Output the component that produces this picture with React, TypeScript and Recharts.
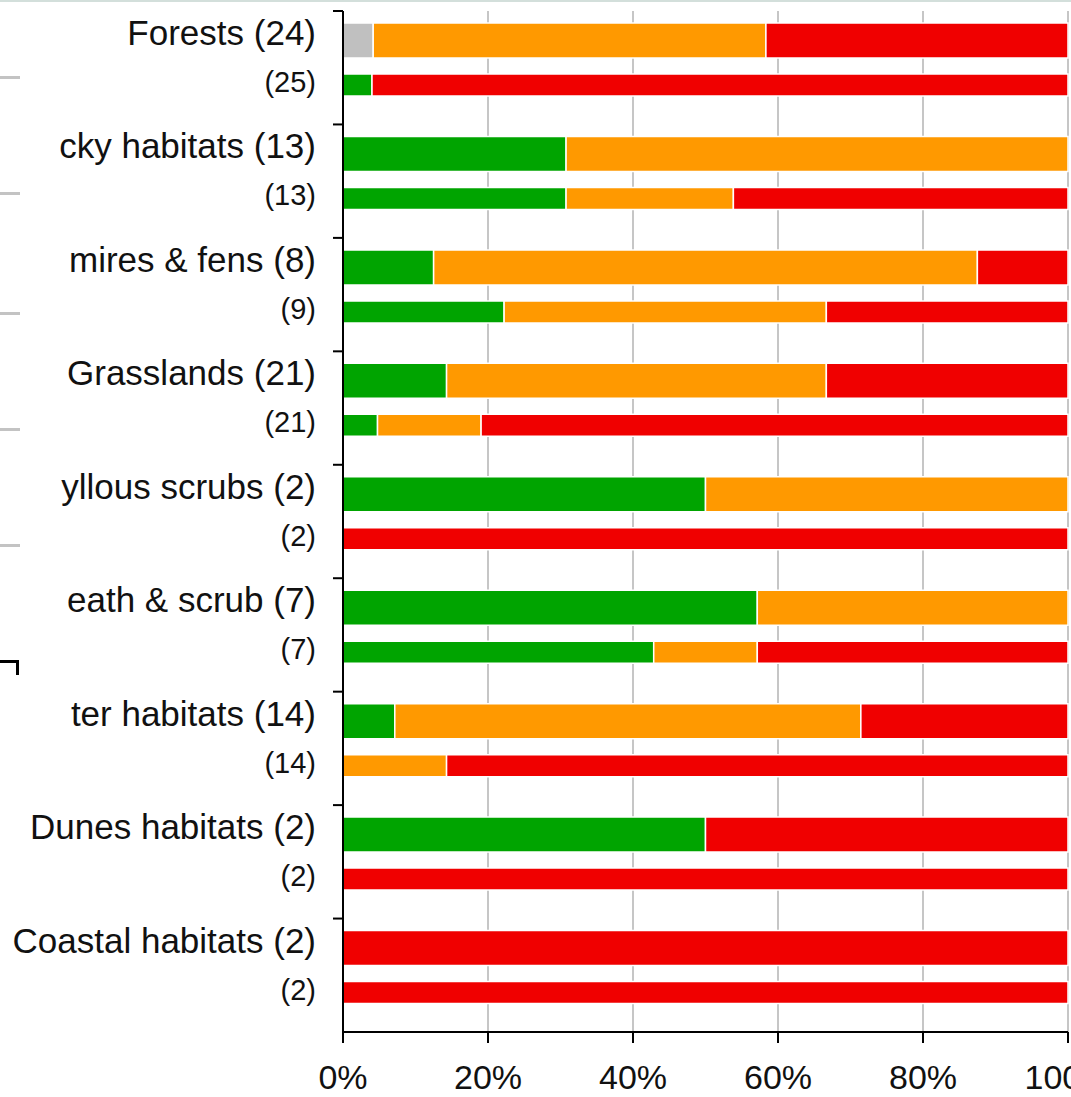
import { BarChart, Bar, XAxis, YAxis, CartesianGrid } from "recharts";

// habitat groups, as far as their labels are visible in the picture
const categories = [
  "Forests (24)",
  "cky habitats (13)",
  "mires & fens (8)",
  "Grasslands (21)",
  "yllous scrubs (2)",
  "eath & scrub (7)",
  "ter habitats (14)",
  "Dunes habitats (2)",
  "Coastal habitats (2)",
];
const secondLabels = ["(25)", "(13)", "(9)", "(21)", "(2)", "(7)", "(14)", "(2)", "(2)"];

// first (thick) bar of each group, counts
const upperGray = [1, 0, 0, 0, 0, 0, 0, 0, 0];
const upperGreen = [0, 4, 1, 3, 1, 4, 1, 1, 0];
const upperOrange = [13, 9, 6, 11, 1, 3, 9, 0, 0];
const upperRed = [10, 0, 1, 7, 0, 0, 4, 1, 2];

// second (thin) bar of each group, counts
const lowerGreen = [1, 4, 2, 1, 0, 3, 0, 0, 0];
const lowerOrange = [0, 3, 4, 3, 0, 1, 2, 0, 0];
const lowerRed = [24, 6, 3, 17, 2, 3, 12, 2, 2];

const xTicks = [0, 0.2, 0.4, 0.6, 0.8, 1];

const GRAY = "#c0c0c0";
const GREEN = "#00a400";
const ORANGE = "#ff9900";
const RED = "#f00000";
const FONT = "'Liberation Sans', Arial, sans-serif";

const data = categories.map((name, i) => ({
  name,
  second: secondLabels[i],
  uGray: upperGray[i],
  uGreen: upperGreen[i],
  uOrange: upperOrange[i],
  uRed: upperRed[i],
  lGreen: lowerGreen[i],
  lOrange: lowerOrange[i],
  lRed: lowerRed[i],
}));

function HabitatTick(props: any) {
  const { x, y, payload } = props;
  const top = y - (payload.offset ?? 0);
  const row = data.find((d) => d.name === payload.value);
  return (
    <g>
      <line x1={x - 10} x2={x} y1={top} y2={top} stroke="#000" strokeWidth={2} />
      <text x={x - 27} y={top + 34} textAnchor="end" fontSize={35} fill="#111" fontFamily={FONT}>
        {payload.value}
      </text>
      <text x={x - 27} y={top + 81} textAnchor="end" fontSize={29} fill="#111" fontFamily={FONT}>
        {row ? row.second : ""}
      </text>
    </g>
  );
}

const seg = { stroke: "#fff", strokeWidth: 1.5, isAnimationActive: false };

export default function App() {
  return (
    <div
      style={{
        position: "absolute",
        left: 0,
        top: 0,
        width: 1071,
        height: 1097,
        background: "#fff",
        overflow: "hidden",
        fontFamily: FONT,
      }}
    >
      {/* bits of the neighbouring panel that show at the crop edges */}
      <div style={{ position: "absolute", left: 0, top: 0, width: 1071, height: 2, background: "#d3dfdb" }} />
      {[76, 192, 312, 428, 544].map((t) => (
        <div key={t} style={{ position: "absolute", left: 0, top: t, width: 20, height: 3, background: "#c3c3c3" }} />
      ))}
      <div style={{ position: "absolute", left: 0, top: 660, width: 19, height: 3, background: "#000" }} />
      <div style={{ position: "absolute", left: 16, top: 660, width: 3, height: 15, background: "#000" }} />

      <BarChart
        width={1071}
        height={1097}
        data={data}
        layout="vertical"
        stackOffset="expand"
        barGap={16}
        margin={{ top: 11, right: 3, bottom: 0, left: 0 }}
        style={{ position: "absolute", left: 0, top: 0 }}
      >
        <CartesianGrid horizontal={false} stroke="#c6c6c6" strokeWidth={2} />
        <XAxis
          type="number"
          domain={[0, 1]}
          ticks={xTicks}
          interval={0}
          height={65}
          tickSize={11}
          tickMargin={22}
          axisLine={{ stroke: "#000", strokeWidth: 2 }}
          tickLine={{ stroke: "#000", strokeWidth: 2 }}
          tick={{ fontSize: 34, fill: "#111", fontFamily: FONT }}
          tickFormatter={(v: number) => `${Math.round(v * 100)}%`}
        />
        <YAxis
          type="category"
          dataKey="name"
          width={343}
          interval={0}
          tickSize={0}
          tickMargin={0}
          tickLine={false}
          axisLine={{ stroke: "#000", strokeWidth: 2 }}
          tick={<HabitatTick />}
        />
        <Bar dataKey="uGray" stackId="upper" barSize={35} fill={GRAY} {...seg} />
        <Bar dataKey="uGreen" stackId="upper" barSize={35} fill={GREEN} {...seg} />
        <Bar dataKey="uOrange" stackId="upper" barSize={35} fill={ORANGE} {...seg} />
        <Bar dataKey="uRed" stackId="upper" barSize={35} fill={RED} {...seg} />
        <Bar dataKey="lGreen" stackId="lower" barSize={22} fill={GREEN} {...seg} />
        <Bar dataKey="lOrange" stackId="lower" barSize={22} fill={ORANGE} {...seg} />
        <Bar dataKey="lRed" stackId="lower" barSize={22} fill={RED} {...seg} />
        {/* empty slot below the pair, keeps the pair high in its band as in the original */}
        <Bar dataKey="spacer" barSize={0} isAnimationActive={false} />
      </BarChart>
    </div>
  );
}
